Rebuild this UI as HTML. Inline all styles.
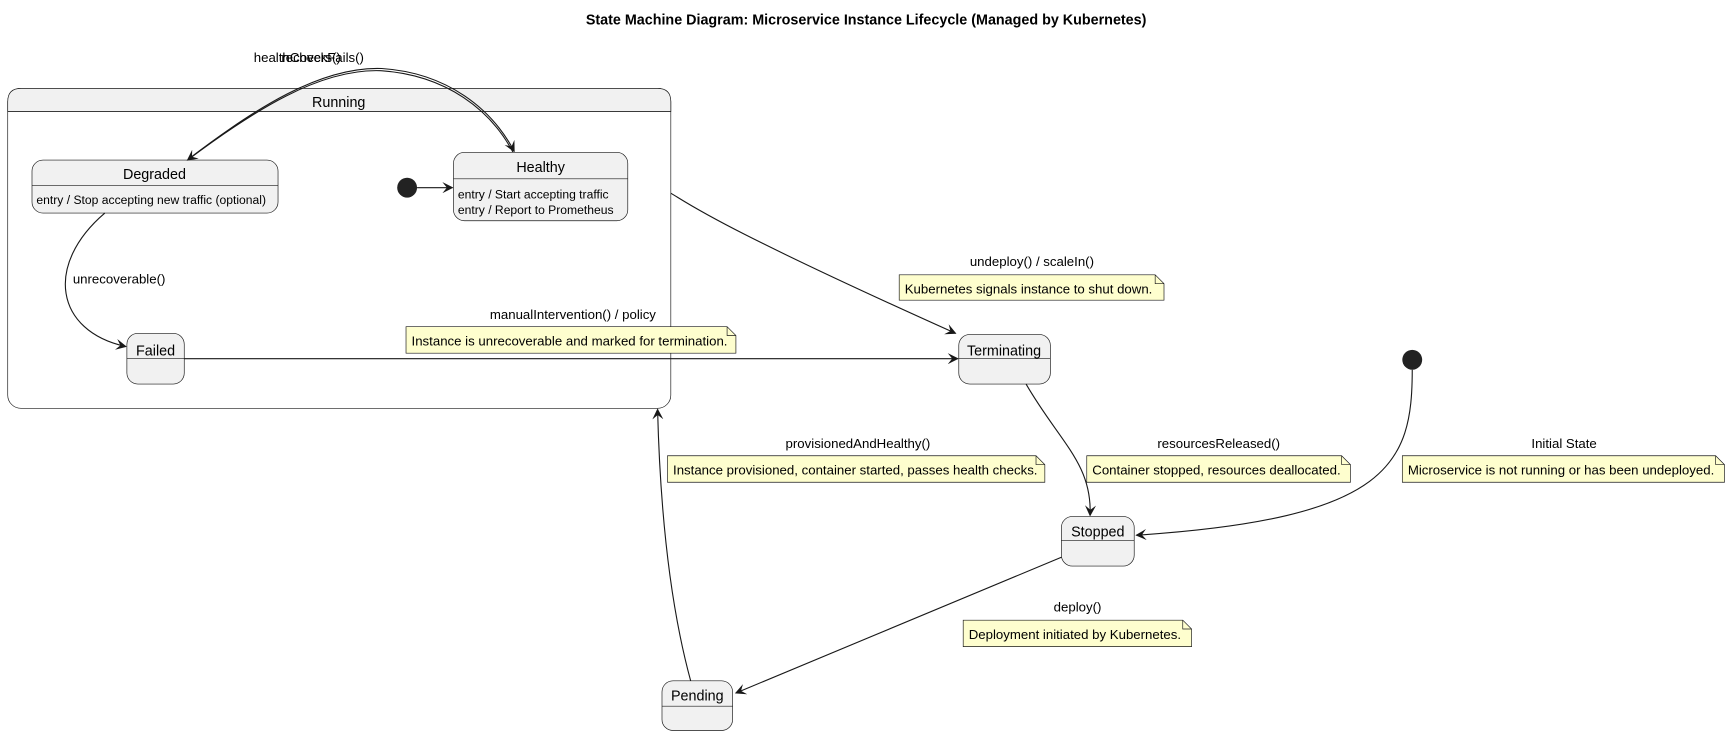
<!DOCTYPE html>
<html><head><meta charset="utf-8"><style>
html,body{margin:0;padding:0;background:#fff;}
svg{display:block;}
text{font-family:"Liberation Sans",Arial,sans-serif;fill:#000;}
.st{fill:#f1f1f1;stroke:#181818;stroke-width:0.6;}
.ln{stroke:#181818;stroke-width:0.6;}
.ar{fill:none;stroke:#181818;stroke-width:1;}
.nt{fill:#fefece;stroke:#181818;stroke-width:0.6;}
.lb{font-size:12px;}
.sn{font-size:13px;}
.en{font-size:11px;}
</style></head><body>
<svg width="1730" height="735" viewBox="0 0 1568 666" xmlns="http://www.w3.org/2000/svg">
<defs>
<marker id="a" viewBox="0 0 10 10" refX="9" refY="5" markerWidth="10" markerHeight="10" orient="auto" markerUnits="userSpaceOnUse">
<path d="M0,0 L10,5 L0,10 L4,5 z" fill="#181818"/>
</marker>
</defs>
<text x="785" y="22" text-anchor="middle" style="font-size:13px;font-weight:bold">State Machine Diagram: Microservice Instance Lifecycle (Managed by Kubernetes)</text>

<rect x="7" y="80" width="601" height="290" rx="12" class="st" style="fill:#fff"/>
<path d="M7,101 V92 Q7,80 19,80 H596 Q608,80 608,92 V101 Z" class="st"/>
<line x1="7" y1="101" x2="608" y2="101" class="ln"/>
<text x="307" y="97" text-anchor="middle" class="sn">Running</text>

<rect x="29" y="145" width="223" height="48" rx="10" class="st"/>
<line x1="29" y1="168" x2="252" y2="168" class="ln"/>
<text x="140" y="162" text-anchor="middle" class="sn">Degraded</text>
<text x="33" y="185" class="en">entry / Stop accepting new traffic (optional)</text>

<circle cx="369" cy="170" r="9" fill="#222"/>
<line x1="378" y1="170" x2="410" y2="170" class="ar" marker-end="url(#a)"/>

<rect x="411" y="138" width="158" height="62" rx="10" class="st"/>
<line x1="411" y1="162" x2="569" y2="162" class="ln"/>
<text x="490" y="156" text-anchor="middle" class="sn">Healthy</text>
<text x="415" y="180" class="en">entry / Start accepting traffic</text>
<text x="415" y="194" class="en">entry / Report to Prometheus</text>

<path d="M465,138 C445,100 405,68 345,64 C290,62 230,100 170,145" class="ar" marker-end="url(#a)"/>
<path d="M171,144 C231,98 291,60 346,62 C406,66 446,99 466,137" class="ar" marker-end="url(#a)"/>
<text x="230" y="56" class="lb">healthCheckFails()</text>
<text x="255" y="56" class="lb">recovers()</text>

<path d="M95,193 C40,240 50,300 114,314" class="ar" marker-end="url(#a)"/>
<text x="66" y="257" class="lb">unrecoverable()</text>

<rect x="115" y="302" width="52" height="46" rx="10" class="st"/>
<line x1="115" y1="325" x2="167" y2="325" class="ln"/>
<text x="141" y="322" text-anchor="middle" class="sn">Failed</text>

<line x1="167" y1="325" x2="868" y2="325" class="ar" marker-end="url(#a)"/>
<text x="444" y="289" class="lb">manualIntervention() / policy</text>
<path d="M368,296 H659 L667,304 V320 H368 Z" class="nt"/><path d="M659,296 V304 H667" class="nt" style="fill:none"/>
<text x="373" y="313" class="lb">Instance is unrecoverable and marked for termination.</text>

<rect x="869" y="303" width="83" height="45" rx="10" class="st"/>
<line x1="869" y1="325" x2="952" y2="325" class="ln"/>
<text x="910" y="322" text-anchor="middle" class="sn">Terminating</text>

<path d="M608,175 C625,185 650,205 866,302" class="ar" marker-end="url(#a)"/>
<text x="879" y="241" class="lb">undeploy() / scaleIn()</text>
<path d="M815,249 H1047 L1055,257 V272 H815 Z" class="nt"/><path d="M1047,249 V257 H1055" class="nt" style="fill:none"/>
<text x="820" y="266" class="lb">Kubernetes signals instance to shut down.</text>

<circle cx="1280" cy="326" r="9" fill="#222"/>
<path d="M1280,335 C1280,420 1260,470 1030,485" class="ar" marker-end="url(#a)"/>
<text x="1388" y="406" class="lb">Initial State</text>
<path d="M1271,413 H1555 L1563,421 V437 H1271 Z" class="nt"/><path d="M1555,413 V421 H1563" class="nt" style="fill:none"/>
<text x="1276" y="430" class="lb">Microservice is not running or has been undeployed.</text>

<path d="M930,348 C960,400 990,420 988,467" class="ar" marker-end="url(#a)"/>
<text x="1049" y="406" class="lb">resourcesReleased()</text>
<path d="M985,413 H1216 L1224,421 V437 H985 Z" class="nt"/><path d="M1216,413 V421 H1224" class="nt" style="fill:none"/>
<text x="990" y="430" class="lb">Container stopped, resources deallocated.</text>

<rect x="962" y="468" width="66" height="45" rx="10" class="st"/>
<line x1="962" y1="490" x2="1028" y2="490" class="ln"/>
<text x="995" y="486" text-anchor="middle" class="sn">Stopped</text>

<line x1="962" y1="505" x2="667" y2="628" class="ar" marker-end="url(#a)"/>
<text x="955" y="554" class="lb">deploy()</text>
<path d="M873,562 H1072 L1080,570 V586 H873 Z" class="nt"/><path d="M1072,562 V570 H1080" class="nt" style="fill:none"/>
<text x="878" y="579" class="lb">Deployment initiated by Kubernetes.</text>

<rect x="600" y="617" width="64" height="45" rx="10" class="st"/>
<line x1="600" y1="640" x2="664" y2="640" class="ln"/>
<text x="632" y="635" text-anchor="middle" class="sn">Pending</text>

<path d="M626,617 C605,540 598,450 596,371" class="ar" marker-end="url(#a)"/>
<text x="712" y="406" class="lb">provisionedAndHealthy()</text>
<path d="M605,413 H939 L947,421 V437 H605 Z" class="nt"/><path d="M939,413 V421 H947" class="nt" style="fill:none"/>
<text x="610" y="430" class="lb">Instance provisioned, container started, passes health checks.</text>
</svg>
</body></html>
